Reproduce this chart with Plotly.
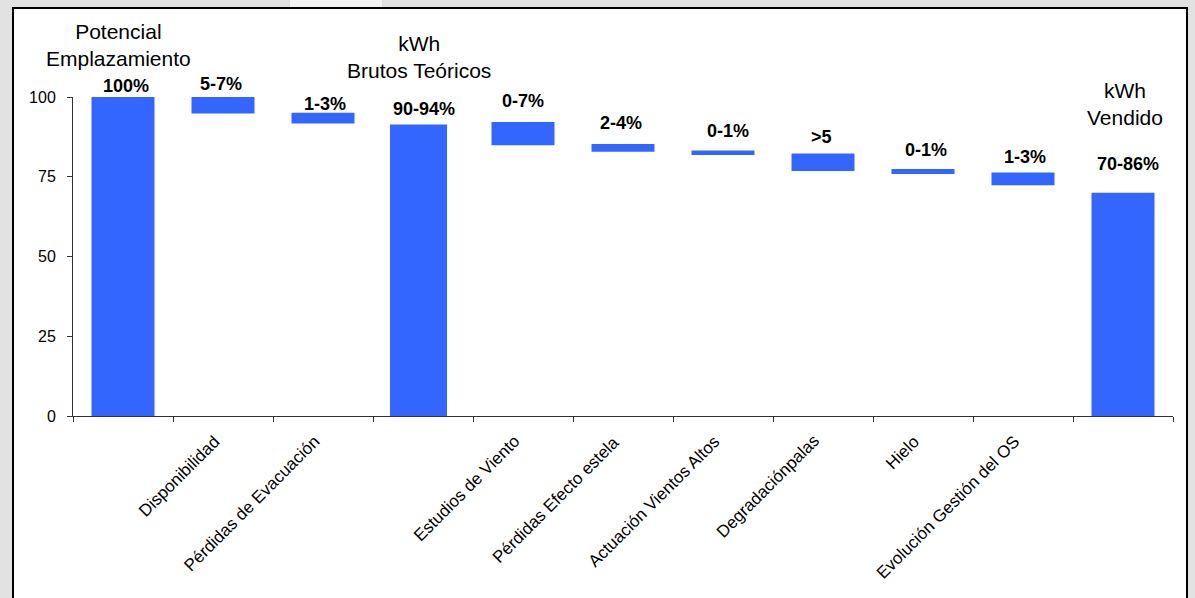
import plotly.graph_objects as go

# Energy-loss cascade: from site potential down to sold kWh
categories = [
    "Potencial Emplazamiento", "Disponibilidad", "Pérdidas de Evacuación",
    "kWh Brutos Teóricos", "Estudios de Viento", "Pérdidas Efecto estela",
    "Actuación Vientos Altos", "Degradaciónpalas", "Hielo",
    "Evolución Gestión del OS", "kWh Vendido",
]
bar_base = [0, 94.8, 91.7, 0, 84.9, 82.8, 81.8, 76.8, 75.9, 72.3, 0]
bar_top = [100, 100, 95.1, 91.4, 92.2, 85.3, 83.2, 82.3, 77.4, 76.3, 70]
value_labels = ["100%", "5-7%", "1-3%", "90-94%", "0-7%", "2-4%",
                "0-1%", ">5", "0-1%", "1-3%", "70-86%"]
tick_labels = ["", "Disponibilidad", "Pérdidas de Evacuación", "",
               "Estudios de Viento", "Pérdidas Efecto estela",
               "Actuación Vientos Altos", "Degradaciónpalas", "Hielo",
               "Evolución Gestión del OS", ""]
y_ticks = [0, 25, 50, 75, 100]

# Totals carry their heading above the bar instead of a tick label
headings = {0: "Potencial<br>Emplazamiento",
            3: "kWh<br>Brutos Teóricos",
            10: "kWh<br>Vendido"}

BLUE = "#3366FF"
FONT = "Arial, Liberation Sans, Helvetica, sans-serif"

W, H = 1195, 598
ML, MR, MT, MB = 73, 22, 97, 182
plot_w = W - ML - MR
plot_h = H - MT - MB

heights = [t - b for t, b in zip(bar_top, bar_base)]
widths = [0.63] * len(categories)
offsets = [-0.315] * len(categories)
widths[3] = 0.57
offsets[3] = -0.33

fig = go.Figure()
fig.add_trace(go.Bar(
    x=categories, y=heights, base=bar_base,
    width=widths, offset=offsets,
    marker=dict(color=BLUE, line=dict(width=0)),
    hoverinfo="skip", showlegend=False,
))

# value labels sit at individually tuned heights above each bar (px)
lift = [11, 13, 8.5, 15.5, 20.5, 21, 20, 16, 19, 16, 29]
nudge = [2.5, -2, 1.5, 1, 0, -2, 5, -2, 3, 1.5, 4.5]
annotations = []
for i, cat in enumerate(categories):
    annotations.append(dict(
        x=cat, y=bar_top[i], xref="x", yref="y",
        text=f"<b>{value_labels[i]}</b>", showarrow=False,
        yanchor="middle", xanchor="center",
        yshift=lift[i], xshift=nudge[i],
        font=dict(family=FONT, size=18, color="black"),
    ))

heading_pos = {0: (-5, 52), 3: (-4, 40), 10: (2, -7)}
for i, txt in headings.items():
    dx, dy = heading_pos[i]
    annotations.append(dict(
        x=categories[i], y=100, xref="x", yref="y",
        text=txt, showarrow=False, align="center",
        yanchor="middle", xanchor="center",
        xshift=dx, yshift=dy,
        font=dict(family=FONT, size=21, color="black"),
    ))

# slanted category names hang from the axis, ending just left of each slot centre
for cat, label in zip(categories, tick_labels):
    if not label:
        continue
    annotations.append(dict(
        x=cat, y=0, xref="x", yref="y",
        text=label, showarrow=False, textangle=-45,
        xanchor="right", yanchor="top",
        xshift=3, yshift=-13,
        font=dict(family=FONT, size=17, color="black"),
    ))

def px_to_paper_x(px):
    return (px - ML) / plot_w

def px_to_paper_y(py):
    return (H - MB - py) / plot_h

shapes = [
    dict(type="rect", xref="paper", yref="paper", layer="below",
         x0=px_to_paper_x(290), x1=px_to_paper_x(382),
         y0=px_to_paper_y(8), y1=px_to_paper_y(0),
         fillcolor="#f3f3f3", line=dict(width=0)),
    dict(type="rect", xref="paper", yref="paper", layer="below",
         x0=px_to_paper_x(13), x1=px_to_paper_x(1187),
         y0=px_to_paper_y(620), y1=px_to_paper_y(8),
         fillcolor="white", line=dict(color="black", width=2)),
]

fig.update_layout(
    width=W, height=H,
    margin=dict(l=ML, r=MR, t=MT, b=MB, pad=0),
    paper_bgcolor="#e2e2e2",
    plot_bgcolor="rgba(0,0,0,0)",
    font=dict(family=FONT, size=16, color="black"),
    bargap=0.37,
    annotations=annotations,
    shapes=shapes,
    xaxis=dict(
        type="category", range=[-0.5, len(categories) - 0.5],
        tickmode="array", tickvals=categories, showticklabels=False,
        tickson="boundaries",
        ticks="outside", ticklen=5, tickcolor="#333", tickwidth=1,
        showline=True, linecolor="#333", linewidth=1,
        showgrid=False, zeroline=False,
    ),
    yaxis=dict(
        range=[0, 100], tickmode="array", tickvals=y_ticks,
        ticks="outside", ticklen=5, tickcolor="#333", tickwidth=1,
        showline=True, linecolor="#333", linewidth=1,
        showgrid=False, zeroline=False,
        tickfont=dict(family=FONT, size=16, color="black"),
        ticklabelstandoff=8,
    ),
)

fig.write_html("out.html")
